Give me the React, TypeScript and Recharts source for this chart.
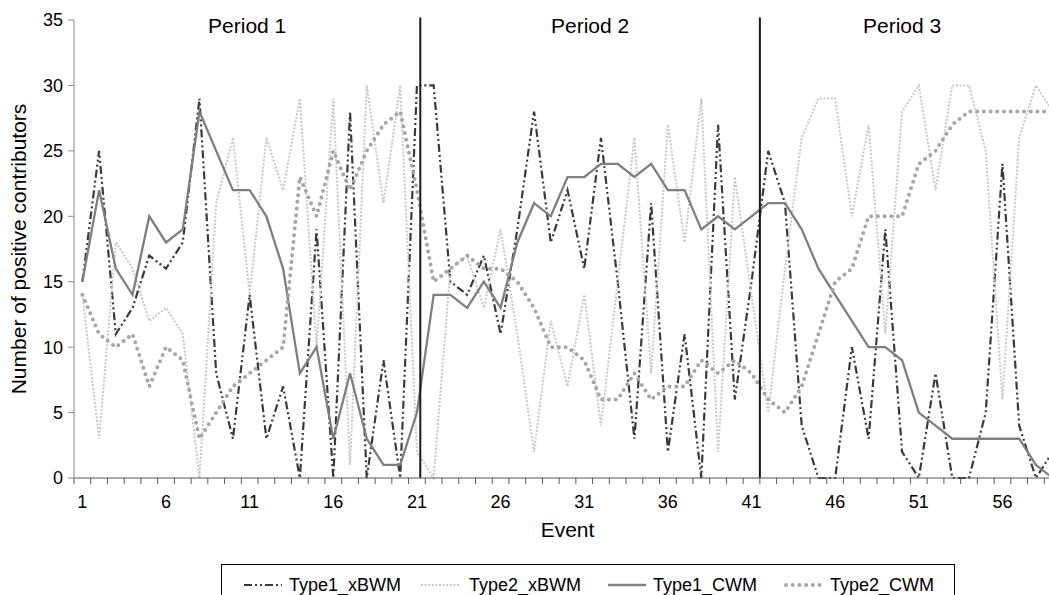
import { Line, LineChart, ReferenceArea, ReferenceLine, XAxis, YAxis } from "recharts";

const events = [
  1, 2, 3, 4, 5, 6, 7, 8, 9, 10, 11, 12, 13, 14, 15, 16, 17, 18, 19, 20,
  21, 22, 23, 24, 25, 26, 27, 28, 29, 30, 31, 32, 33, 34, 35, 36, 37, 38, 39, 40,
  41, 42, 43, 44, 45, 46, 47, 48, 49, 50, 51, 52, 53, 54, 55, 56, 57, 58, 59,
];

const type1xBWM = [
  15, 25, 11, 13, 17, 16, 18, 29, 8, 3, 14, 3, 7, 0, 19, 0, 28, 0, 9, 0,
  30, 30, 15, 14, 17, 11, 19, 28, 18, 22, 16, 26, 15, 3, 21, 2, 11, 0, 27, 6,
  15, 25, 21, 4, 0, 0, 10, 3, 19, 2, 0, 8, 0, 0, 5, 24, 4, 0, 2,
];

const type2xBWM = [
  14, 3, 18, 16, 12, 13, 11, 0, 21, 26, 14, 26, 22, 29, 10, 29, 1, 30, 21, 30,
  2, 0, 16, 17, 13, 19, 11, 2, 12, 7, 14, 4, 15, 26, 8, 27, 18, 29, 2, 23,
  14, 5, 16, 26, 29, 29, 20, 27, 11, 28, 30, 22, 30, 30, 25, 6, 26, 30, 28,
];

const type1CWM = [
  15, 22, 16, 14, 20, 18, 19, 28, 25, 22, 22, 20, 16, 8, 10, 3, 8, 3, 1, 1,
  5, 14, 14, 13, 15, 13, 18, 21, 20, 23, 23, 24, 24, 23, 24, 22, 22, 19, 20, 19,
  20, 21, 21, 19, 16, 14, 12, 10, 10, 9, 5, 4, 3, 3, 3, 3, 3, 1, 0,
];

const type2CWM = [
  14, 11, 10, 11, 7, 10, 9, 3, 5, 7, 8, 9, 10, 23, 20, 25, 22, 25, 27, 28,
  22, 15, 16, 17, 16, 16, 15, 13, 10, 10, 9, 6, 6, 8, 6, 7, 7, 9, 8, 9,
  8, 6, 5, 7, 11, 15, 16, 20, 20, 20, 24, 25, 27, 28, 28, 28, 28, 28, 28,
];

const yTicks = [0, 5, 10, 15, 20, 25, 30, 35];
const labelledEvents = [1, 6, 11, 16, 21, 26, 31, 36, 41, 46, 51, 56];
const periodNames = ["Period 1", "Period 2", "Period 3"];
const periodBreaks = [21.2, 41.5];

const FONT = '"Liberation Sans", Arial, sans-serif';
const HALF_BAND = 8.37;

const rows = events.map((event, i) => ({
  event,
  t1x: type1xBWM[i],
  t2x: type2xBWM[i],
  t1c: type1CWM[i],
  t2c: type2CWM[i],
}));

const series = [
  { key: "t1x", name: "Type1_xBWM", color: "#3a3a3a", width: 2.2, dash: "8 3 2 3 2 3", cap: "butt" },
  { key: "t2x", name: "Type2_xBWM", color: "#c8c8c8", width: 2, dash: "2 1.6", cap: "butt" },
  { key: "t1c", name: "Type1_CWM", color: "#7f7f7f", width: 2.3, dash: undefined, cap: "butt" },
  { key: "t2c", name: "Type2_CWM", color: "#a6a6a6", width: 4, dash: "0 6.7", cap: "round" },
];

// x positions of the legend swatches and labels, relative to the legend box
const legendSlots = [
  { swatch: 20, text: 67 },
  { swatch: 197, text: 247 },
  { swatch: 384, text: 431 },
  { swatch: 562, text: 608 },
];

function EventTick(props: any) {
  const { x, y, payload } = props;
  const v = payload.value;
  return (
    <g>
      <line x1={x - HALF_BAND} x2={x - HALF_BAND} y1={y} y2={y + 6} stroke="#595959" strokeWidth={1} />
      {labelledEvents.includes(v) && (
        <text x={x} y={y + 30} textAnchor="middle" fontSize={18} fontFamily={FONT} fill="#000">
          {v}
        </text>
      )}
    </g>
  );
}

function renderYTitle(props: any) {
  const { viewBox } = props;
  const cx = viewBox.x + 18;
  const cy = viewBox.y + viewBox.height / 2;
  return (
    <text
      x={cx}
      y={cy}
      transform={`rotate(-90 ${cx} ${cy})`}
      textAnchor="middle"
      dominantBaseline="central"
      fontSize={21}
      fontFamily={FONT}
      fill="#000"
    >
      Number of positive contributors
    </text>
  );
}

function renderXTitle(props: any) {
  const { viewBox } = props;
  return (
    <text x={viewBox.x + viewBox.width / 2} y={viewBox.y + 59} textAnchor="middle" fontSize={21} fontFamily={FONT} fill="#000">
      Event
    </text>
  );
}

function ChartLegend() {
  return (
    <div
      style={{
        position: "absolute",
        left: 221,
        top: 564,
        width: 734,
        height: 44,
        border: "1px solid #000",
        boxSizing: "border-box",
        fontFamily: FONT,
        fontSize: 18,
        background: "#fff",
      }}
    >
      {series.map((s, i) => (
        <div key={s.key}>
          <svg style={{ position: "absolute", left: legendSlots[i].swatch, top: 10 }} width={42} height={20}>
            <line
              x1={2}
              x2={40}
              y1={10}
              y2={10}
              stroke={s.color}
              strokeWidth={s.width}
              strokeDasharray={s.dash}
              strokeLinecap={s.cap as any}
            />
          </svg>
          <span style={{ position: "absolute", left: legendSlots[i].text, top: 9, lineHeight: "22px" }}>{s.name}</span>
        </div>
      ))}
    </div>
  );
}

export default function App() {
  return (
    <div style={{ position: "absolute", left: 0, top: 0, width: 1049, height: 595, overflow: "hidden", background: "#fff" }}>
      <LineChart width={1061} height={548} data={rows} margin={{ top: 20, right: 0, bottom: 0, left: 0 }}>
        {periodNames.map((name, i) => (
          <ReferenceArea
            key={name}
            x1={i === 0 ? 0.5 : periodBreaks[i - 1]}
            x2={i === 2 ? 58.5 : periodBreaks[i]}
            fill="none"
            stroke="none"
            ifOverflow="visible"
            label={{ value: name, position: "insideTop", offset: -2, fontSize: 21, fontFamily: FONT, fill: "#000" }}
          />
        ))}
        <XAxis
          type="number"
          dataKey="event"
          domain={[0.5, 59.5]}
          ticks={events}
          interval={0}
          height={70}
          tickSize={0}
          tickMargin={0}
          tickLine={false}
          axisLine={{ stroke: "#595959", strokeWidth: 1.2 }}
          tick={<EventTick />}
          label={renderXTitle}
        />
        <YAxis
          type="number"
          domain={[0, 35]}
          ticks={yTicks}
          width={74}
          tickSize={6}
          tickMargin={5}
          axisLine={{ stroke: "#8c8c8c" }}
          tickLine={{ stroke: "#8c8c8c" }}
          tick={{ fontSize: 18, fontFamily: FONT, fill: "#000" }}
          label={renderYTitle}
        />
        {series.map((s) => (
          <Line
            key={s.key}
            type="linear"
            dataKey={s.key}
            name={s.name}
            stroke={s.color}
            strokeWidth={s.width}
            strokeDasharray={s.dash}
            strokeLinecap={s.cap as any}
            dot={false}
            activeDot={false}
            isAnimationActive={false}
          />
        ))}
        {periodBreaks.map((x) => (
          <ReferenceLine
            key={x}
            segment={[
              { x, y: 0 },
              { x, y: 35.2 },
            ]}
            stroke="#1a1a1a"
            strokeWidth={2}
            ifOverflow="visible"
          />
        ))}
      </LineChart>
      <ChartLegend />
    </div>
  );
}
